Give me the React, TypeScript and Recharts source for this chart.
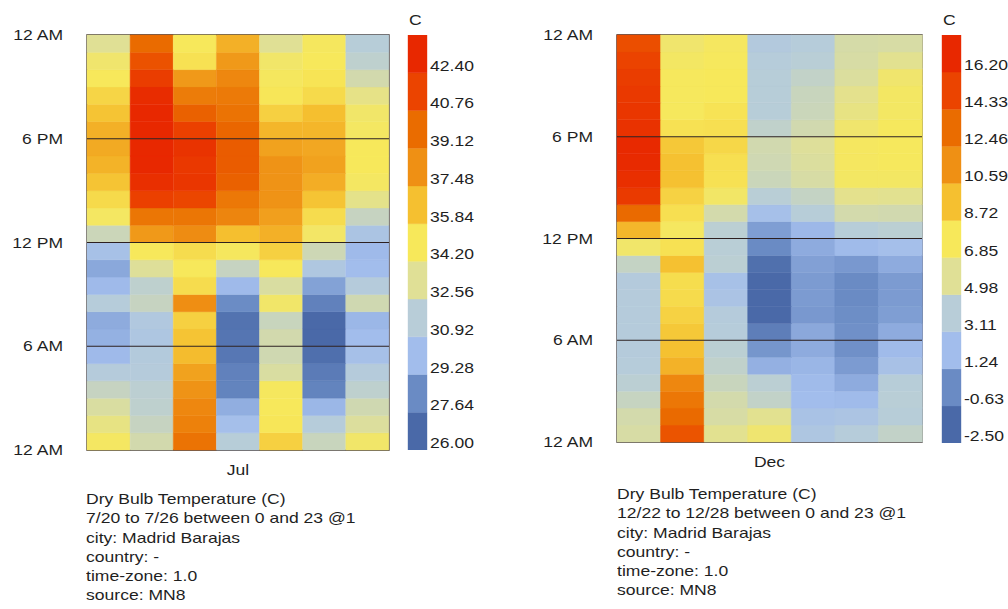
import React from 'react';
import { BarChart, Bar, XAxis, YAxis, Cell, ReferenceLine, ReferenceArea } from 'recharts';

const FONT = '"Liberation Sans", Arial, Helvetica, sans-serif';
const INK = '#1f1f1f';
const FRAME = '#2d2020';
const WIDEN = 1.17;

// Legend bands, coldest to hottest
const bandColors = [
  '#4a69a8', '#6a8bc4', '#a2bdec', '#b8cdd8', '#e0e096', '#f7e85a',
  '#f5c030', '#ef9014', '#ea6c00', '#eb4400', '#e82800',
];

const hourOfDay = [0, 1, 2, 3, 4, 5, 6, 7, 8, 9, 10, 11, 12, 13, 14, 15, 16, 17, 18, 19, 20, 21, 22, 23];
const hourTicks = [0, 6, 12, 18, 24];
const hourTickLabels = ['12 AM', '6 AM', '12 PM', '6 PM', '12 AM'];

// July week: dry bulb temperature (C) per day, hour 0 .. 23
const julDays = ['7/20', '7/21', '7/22', '7/23', '7/24', '7/25', '7/26'];
const jul20 = [34.8, 33.9, 33.1, 32.3, 31.5, 30.0, 29.7, 29.5, 31.6, 30.0, 29.4, 30.5, 32.5, 34.8, 35.6, 36.5, 37.1, 37.4, 37.2, 36.5, 35.8, 35.0, 34.5, 33.4];
const jul21 = [32.8, 32.3, 32.0, 31.9, 31.5, 31.4, 31.0, 31.2, 32.3, 32.0, 33.3, 35.0, 38.0, 39.5, 41.8, 42.8, 43.2, 43.8, 43.5, 43.3, 43.0, 42.0, 41.0, 40.0];
const jul22 = [39.6, 39.0, 38.7, 38.2, 37.7, 36.8, 36.5, 36.0, 38.4, 35.5, 35.0, 35.5, 38.5, 39.5, 41.5, 42.4, 42.3, 42.6, 41.8, 40.4, 39.2, 38.0, 35.3, 35.0];
const jul23 = [31.7, 30.3, 29.6, 28.1, 28.0, 27.5, 27.4, 27.3, 28.5, 30.0, 32.3, 34.9, 36.7, 38.8, 39.4, 40.4, 40.6, 40.6, 40.2, 39.6, 39.3, 38.7, 38.0, 37.2];
const jul24 = [36.0, 35.1, 35.0, 34.9, 33.1, 32.7, 32.8, 32.4, 34.6, 33.1, 35.0, 36.0, 37.2, 37.8, 38.2, 38.2, 38.2, 37.7, 37.0, 36.0, 35.1, 34.9, 34.6, 33.4];
const jul25 = [32.4, 31.6, 29.9, 28.1, 27.7, 27.1, 26.8, 26.8, 28.0, 29.2, 31.1, 32.6, 34.7, 35.5, 36.5, 37.3, 37.7, 37.5, 37.0, 36.7, 35.6, 35.2, 35.0, 34.9];
const jul26 = [34.6, 33.2, 32.7, 32.0, 31.5, 30.4, 30.1, 29.9, 32.7, 31.5, 30.1, 30.0, 30.8, 32.3, 33.7, 34.8, 35.0, 35.0, 34.8, 34.6, 33.8, 32.8, 32.0, 31.7];
const julTemps = [jul20, jul21, jul22, jul23, jul24, jul25, jul26];
const julScaleTicks = [26.0, 27.64, 29.28, 30.92, 32.56, 34.2, 35.84, 37.48, 39.12, 40.76, 42.4];
const julInfo = [
  'Dry Bulb Temperature (C)',
  '7/20 to 7/26 between 0 and 23 @1',
  'city: Madrid Barajas',
  'country: -',
  'time-zone: 1.0',
  'source: MN8',
];

// December week: dry bulb temperature (C) per day, hour 0 .. 23
const decDays = ['12/22', '12/23', '12/24', '12/25', '12/26', '12/27', '12/28'];
const dec22 = [5.5, 5.3, 4.7, 4.2, 3.9, 3.8, 3.8, 3.8, 3.8, 3.7, 4.6, 7.3, 10.0, 13.5, 15.9, 16.7, 17.0, 17.1, 16.5, 16.2, 16.0, 15.7, 15.3, 14.8];
const dec23 = [14.5, 13.5, 12.8, 12.0, 10.2, 9.6, 9.3, 8.8, 8.4, 8.3, 9.6, 8.1, 7.6, 8.2, 8.8, 9.6, 9.6, 9.3, 8.1, 7.7, 7.7, 7.7, 7.5, 7.2];
const dec24 = [6.1, 5.5, 5.3, 4.8, 4.4, 4.2, 3.9, 3.8, 2.9, 2.6, 4.2, 4.1, 4.2, 5.3, 7.4, 8.1, 8.2, 8.6, 8.2, 8.0, 7.8, 7.8, 7.7, 7.6];
const dec25 = [7.1, 6.1, 4.5, 4.2, 1.7, 0.7, -0.4, -1.6, -1.7, -1.7, -1.2, 0.3, 1.0, 2.5, 4.1, 4.9, 5.1, 5.2, 4.4, 4.0, 4.0, 4.0, 3.9, 3.6];
const dec26 = [3.2, 2.8, 2.2, 2.1, 1.9, 1.5, 1.4, 0.8, 0.9, 0.9, 1.1, 1.5, 2.0, 4.0, 4.6, 5.5, 5.7, 5.8, 5.2, 4.9, 4.8, 4.5, 4.1, 3.9];
const dec27 = [3.9, 3.0, 2.1, 1.5, 0.9, 0.5, 0.5, 0.4, 0.3, 0.3, 0.8, 2.1, 4.0, 5.3, 6.2, 7.5, 7.6, 7.6, 7.2, 6.5, 6.2, 5.7, 5.5, 5.4];
const dec28 = [4.5, 4.0, 4.1, 4.0, 2.7, 2.1, 1.5, 1.0, 0.9, 0.9, 1.5, 2.4, 4.2, 5.2, 6.1, 7.5, 7.7, 7.7, 7.7, 7.5, 7.5, 7.2, 6.1, 5.5];
const decTemps = [dec22, dec23, dec24, dec25, dec26, dec27, dec28];
const decScaleTicks = [-2.5, -0.63, 1.24, 3.11, 4.98, 6.85, 8.72, 10.59, 12.46, 14.33, 16.2];
const decInfo = [
  'Dry Bulb Temperature (C)',
  '12/22 to 12/28 between 0 and 23 @1',
  'city: Madrid Barajas',
  'country: -',
  'time-zone: 1.0',
  'source: MN8',
];

function hexToRgb(hex: string): number[] {
  const n = parseInt(hex.slice(1), 16);
  return [(n >> 16) & 255, (n >> 8) & 255, n & 255];
}

// Blend between neighbouring band colours, each band colour sitting at its band's middle
function heatColor(v: number, lo: number, step: number): string {
  const last = bandColors.length - 1;
  const p = Math.max(0, Math.min(last, (v - lo) / step - 0.5));
  const i = Math.min(Math.floor(p), last - 1);
  const t = p - i;
  const a = hexToRgb(bandColors[i]);
  const b = hexToRgb(bandColors[i + 1]);
  const c = a.map((ch, k) => Math.round(ch + (b[k] - ch) * t));
  return `rgb(${c[0]},${c[1]},${c[2]})`;
}

function WideText({ x, y, anchor = 'start', children }: { x: number; y: number; anchor?: string; children: React.ReactNode }) {
  return (
    <text
      transform={`translate(${x},${y}) scale(${WIDEN},1)`}
      x={0}
      y={0}
      textAnchor={anchor}
      fontFamily={FONT}
      fontSize={15}
      fill={INK}
    >
      {children}
    </text>
  );
}

const HourTick = (props: any) => {
  const { x, y, payload } = props;
  const label = hourTickLabels[hourTicks.indexOf(payload.value)];
  return <WideText x={x} y={y + 5} anchor="end">{label}</WideText>;
};

// The month name sits under the middle day of the week
const MonthTick = (props: any) => {
  const { x, y, month } = props;
  return <WideText x={x} y={y + 25} anchor="middle">{month}</WideText>;
};

const ScaleTick = (props: any) => {
  const { x, y, payload } = props;
  return <WideText x={x} y={y - 2}>{Number(payload.value).toFixed(2)}</WideText>;
};

type HeatProps = {
  days: string[];
  temps: number[][];
  scaleTicks: number[];
  month: string;
  left: number;
  width: number;
  height: number;
  marginRight: number;
};

function HeatMap({ days, temps, scaleTicks, month, left, width, height, marginRight }: HeatProps) {
  const rows = days.map((day) => {
    const row: Record<string, any> = { day };
    hourOfDay.forEach((h) => {
      row[`slot${h}`] = 1;
    });
    return row;
  });
  const lo = scaleTicks[0];
  const step = scaleTicks[1] - scaleTicks[0];
  const midDay = days[Math.floor(days.length / 2)];
  return (
    <div style={{ position: 'absolute', left, top: 0 }}>
      <BarChart
        width={width}
        height={height}
        data={rows}
        margin={{ top: 35, right: marginRight, bottom: 10, left: 0 }}
        barCategoryGap={0}
        barGap={0}
      >
        <XAxis
          dataKey="day"
          type="category"
          ticks={[midDay]}
          interval={0}
          tickLine={false}
          axisLine={false}
          tickSize={0}
          tickMargin={0}
          height={30}
          tick={<MonthTick month={month} />}
        />
        <YAxis
          type="number"
          domain={[0, 24]}
          ticks={hourTicks}
          interval={0}
          width={87}
          tickLine={false}
          axisLine={false}
          tickSize={0}
          tickMargin={24}
          tick={<HourTick />}
        />
        {hourOfDay.map((h) => (
          <Bar key={h} dataKey={`slot${h}`} stackId="day" isAnimationActive={false}>
            {temps.map((dayTemps, d) => {
              const c = heatColor(dayTemps[h], lo, step);
              return <Cell key={d} fill={c} stroke={c} strokeWidth={0.5} />;
            })}
          </Bar>
        ))}
        {hourTicks.slice(1, -1).map((h) => (
          <ReferenceLine key={h} y={h} stroke={FRAME} strokeWidth={1.2} />
        ))}
        <ReferenceArea y1={0} y2={24} fill="none" stroke={FRAME} strokeWidth={1.3} />
      </BarChart>
    </div>
  );
}

type ScaleProps = {
  ticks: number[];
  left: number;
  width: number;
  height: number;
  axisWidth: number;
};

function ColorScale({ ticks, left, width, height, axisWidth }: ScaleProps) {
  const step = ticks[1] - ticks[0];
  const row: Record<string, any> = { name: 'scale', base: ticks[0] };
  ticks.forEach((_, k) => {
    row[`band${k}`] = step;
  });
  const top = ticks[ticks.length - 1] + step;
  return (
    <div style={{ position: 'absolute', left, top: 0 }}>
      <BarChart
        width={width}
        height={height}
        data={[row]}
        margin={{ top: 35, right: 0, bottom: 10, left: 8 }}
        barCategoryGap={0}
        barGap={0}
      >
        <XAxis dataKey="name" hide />
        <YAxis
          orientation="right"
          type="number"
          domain={[ticks[0], top]}
          allowDataOverflow
          ticks={ticks}
          interval={0}
          width={axisWidth}
          tickLine={false}
          axisLine={false}
          tickSize={0}
          tickMargin={3}
          tick={<ScaleTick />}
          label={(p: any) => (
            <WideText x={p.viewBox.x - 18} y={p.viewBox.y - 10}>
              C
            </WideText>
          )}
        />
        <Bar dataKey="base" stackId="scale" fill="none" isAnimationActive={false} />
        {ticks.map((_, k) => (
          <Bar
            key={k}
            dataKey={`band${k}`}
            stackId="scale"
            fill={bandColors[k]}
            stroke={bandColors[k]}
            strokeWidth={0.4}
            isAnimationActive={false}
          />
        ))}
      </BarChart>
    </div>
  );
}

function InfoBlock({ lines, left, top }: { lines: string[]; left: number; top: number }) {
  return (
    <div
      style={{
        position: 'absolute',
        left,
        top,
        fontFamily: FONT,
        fontSize: 15,
        lineHeight: '19.3px',
        color: INK,
        whiteSpace: 'nowrap',
        transform: `scaleX(${WIDEN})`,
        transformOrigin: 'left top',
      }}
    >
      {lines.map((l) => (
        <div key={l}>{l}</div>
      ))}
    </div>
  );
}

export default function App() {
  return (
    <div
      style={{
        position: 'absolute',
        left: 0,
        top: 0,
        width: 1008,
        height: 609,
        overflow: 'hidden',
        background: '#ffffff',
      }}
    >
      <HeatMap
        days={julDays}
        temps={julTemps}
        scaleTicks={julScaleTicks}
        month="Jul"
        left={0}
        width={400}
        height={490}
        marginRight={11}
      />
      <ColorScale ticks={julScaleTicks} left={400} width={80} height={460} axisWidth={53} />
      <InfoBlock lines={julInfo} left={86} top={489} />

      <HeatMap
        days={decDays}
        temps={decTemps}
        scaleTicks={decScaleTicks}
        month="Dec"
        left={530}
        width={400}
        height={482}
        marginRight={8}
      />
      <ColorScale ticks={decScaleTicks} left={934} width={74} height={453} axisWidth={47} />
      <InfoBlock lines={decInfo} left={617} top={484} />
    </div>
  );
}
